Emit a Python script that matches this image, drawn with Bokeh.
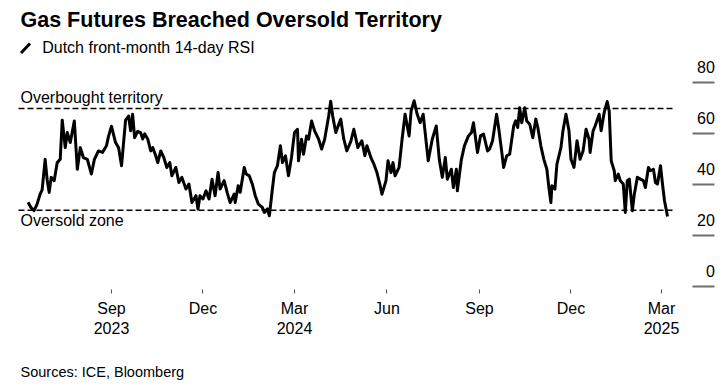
from datetime import datetime
import pandas as pd
from bokeh.plotting import figure
from bokeh.models import Range1d, FixedTicker, Label, Arrow, ColumnDataSource
from bokeh.core.properties import value
from bokeh.embed import file_html
from bokeh.resources import INLINE

# ---------------- data ----------------
dates = [
    "2023-06-10", "2023-06-13", "2023-06-16", "2023-06-19", "2023-06-22", "2023-06-24", "2023-06-27", "2023-06-29",
    "2023-07-01", "2023-07-03", "2023-07-06", "2023-07-09", "2023-07-12", "2023-07-14", "2023-07-17", "2023-07-19",
    "2023-07-22", "2023-07-26", "2023-07-29", "2023-08-01", "2023-08-04", "2023-08-08", "2023-08-12", "2023-08-15",
    "2023-08-19", "2023-08-23", "2023-08-27", "2023-08-29", "2023-09-01", "2023-09-05", "2023-09-08", "2023-09-11",
    "2023-09-15", "2023-09-18", "2023-09-20", "2023-09-22", "2023-09-24", "2023-09-27", "2023-09-30", "2023-10-02",
    "2023-10-04", "2023-10-07", "2023-10-10", "2023-10-12", "2023-10-15", "2023-10-17", "2023-10-20", "2023-10-23",
    "2023-10-26", "2023-10-29", "2023-10-31", "2023-11-04", "2023-11-07", "2023-11-10", "2023-11-14", "2023-11-17",
    "2023-11-20", "2023-11-24", "2023-11-26", "2023-11-28", "2023-12-01", "2023-12-04", "2023-12-07", "2023-12-10",
    "2023-12-13", "2023-12-16", "2023-12-18", "2023-12-22", "2023-12-25", "2023-12-28", "2024-01-01", "2024-01-02",
    "2024-01-05", "2024-01-07", "2024-01-11", "2024-01-13", "2024-01-16", "2024-01-19", "2024-01-22", "2024-01-25",
    "2024-01-29", "2024-01-31", "2024-02-03", "2024-02-05", "2024-02-08", "2024-02-10", "2024-02-13", "2024-02-16",
    "2024-02-18", "2024-02-21", "2024-02-24", "2024-02-27", "2024-03-01", "2024-03-04", "2024-03-05", "2024-03-08",
    "2024-03-10", "2024-03-13", "2024-03-15", "2024-03-18", "2024-03-21", "2024-03-25", "2024-03-28", "2024-03-31",
    "2024-04-04", "2024-04-06", "2024-04-08", "2024-04-11", "2024-04-16", "2024-04-19", "2024-04-22", "2024-04-26",
    "2024-04-29", "2024-05-03", "2024-05-07", "2024-05-10", "2024-05-12", "2024-05-16", "2024-05-19", "2024-05-22",
    "2024-05-25", "2024-05-27", "2024-05-31", "2024-06-02", "2024-06-05", "2024-06-07", "2024-06-09", "2024-06-13",
    "2024-06-16", "2024-06-19", "2024-06-23", "2024-06-25", "2024-06-28", "2024-07-01", "2024-07-04", "2024-07-07",
    "2024-07-12", "2024-07-16", "2024-07-20", "2024-07-23", "2024-07-26", "2024-07-29", "2024-07-31", "2024-08-04",
    "2024-08-06", "2024-08-09", "2024-08-10", "2024-08-14", "2024-08-17", "2024-08-21", "2024-08-24", "2024-08-26",
    "2024-08-30", "2024-09-02", "2024-09-05", "2024-09-09", "2024-09-11", "2024-09-14", "2024-09-18", "2024-09-20",
    "2024-09-23", "2024-09-25", "2024-09-28", "2024-10-01", "2024-10-05", "2024-10-07", "2024-10-09", "2024-10-11",
    "2024-10-13", "2024-10-16", "2024-10-18", "2024-10-21", "2024-10-24", "2024-10-27", "2024-10-29", "2024-11-01",
    "2024-11-04", "2024-11-07", "2024-11-09", "2024-11-11", "2024-11-12", "2024-11-15", "2024-11-17", "2024-11-21",
    "2024-11-23", "2024-11-26", "2024-11-29", "2024-12-01", "2024-12-04", "2024-12-07", "2024-12-10", "2024-12-13",
    "2024-12-16", "2024-12-19", "2024-12-20", "2024-12-23", "2024-12-25", "2024-12-29", "2024-12-31", "2025-01-03",
    "2025-01-06", "2025-01-08", "2025-01-10", "2025-01-13", "2025-01-14", "2025-01-17", "2025-01-19", "2025-01-22",
    "2025-01-24", "2025-01-26", "2025-01-28", "2025-01-31", "2025-02-02", "2025-02-05", "2025-02-08", "2025-02-11",
    "2025-02-13", "2025-02-16", "2025-02-18", "2025-02-21", "2025-02-23", "2025-02-25", "2025-02-28", "2025-03-02",
    "2025-03-04", "2025-03-07",
]
rsi = [
    33.1, 31.0, 29.8, 32.4, 36.3, 38.0, 50.0, 42.0,
    37.0, 42.9, 41.6, 48.7, 50.0, 65.4, 54.6, 60.5,
    56.6, 65.1, 46.1, 54.6, 50.7, 50.0, 44.2, 50.0,
    53.3, 52.7, 55.3, 59.0, 63.0, 56.6, 54.6, 47.5,
    65.4, 67.0, 61.2, 67.7, 58.5, 61.0, 60.5, 58.0,
    60.0, 58.0, 53.3, 54.6, 51.4, 48.7, 53.3, 50.7,
    46.8, 48.7, 43.5, 46.8, 40.9, 42.9, 38.3, 40.3,
    33.0, 35.7, 30.5, 35.7, 34.4, 37.6, 34.4, 42.2,
    35.7, 44.8, 38.3, 41.6, 37.0, 33.0, 36.3, 33.0,
    39.6, 37.0, 46.8, 44.2, 43.5, 40.3, 35.7, 32.4,
    31.1, 29.1, 30.5, 27.8, 38.3, 44.8, 47.5, 55.3,
    48.7, 51.4, 43.5, 50.7, 60.5, 61.8, 49.4, 57.9,
    52.0, 59.2, 57.9, 65.1, 61.2, 57.9, 54.0, 57.9,
    67.0, 72.8, 67.0, 60.5, 65.8, 58.0, 53.3, 57.0,
    61.8, 54.6, 57.3, 51.4, 55.3, 50.7, 48.1, 44.8,
    40.0, 36.3, 41.6, 49.4, 44.8, 48.7, 43.5, 46.8,
    57.9, 67.7, 59.2, 69.0, 73.0, 67.7, 64.4, 67.7,
    49.4, 57.9, 63.1, 50.0, 42.9, 50.7, 42.2, 46.1,
    38.9, 46.1, 37.6, 50.0, 55.3, 59.2, 60.5, 64.4,
    52.7, 59.2, 59.9, 53.3, 54.0, 57.3, 67.7, 62.5,
    53.3, 46.8, 51.4, 52.0, 63.1, 65.1, 62.5, 70.3,
    64.4, 70.3, 65.1, 63.8, 58.5, 65.8, 62.5, 55.3,
    50.0, 46.1, 38.9, 33.0, 39.6, 38.3, 48.1, 54.6,
    61.2, 67.7, 61.2, 50.0, 46.8, 57.3, 50.0, 53.3,
    61.8, 57.9, 52.7, 61.2, 63.1, 67.7, 61.2, 68.4,
    72.7, 69.0, 49.4, 45.5, 41.6, 44.2, 41.6, 40.3,
    29.1, 41.6, 42.2, 29.8, 36.3, 42.9, 42.2, 41.6,
    38.9, 46.8, 45.5, 46.1, 40.9, 40.3, 47.5, 40.3,
    33.7, 27.5,
]

tick_dates = ["2023-09-01", "2023-12-01", "2024-03-01", "2024-06-01", "2024-09-01", "2024-12-01", "2025-03-01"]
tick_labels = ["Sep\n2023", "Dec", "Mar\n2024", "Jun", "Sep", "Dec", "Mar\n2025"]
y_ticks = [0, 20, 40, 60, 80]
y_tick_labels = ["0", "20", "40", "60", "80"]
overbought = 70
oversold = 30

FONT = "Liberation Sans"

# view window / layout constants
x_start = datetime(2023, 5, 13, 14, 24)
x_end = datetime(2025, 4, 25, 17)
band_start = datetime(2023, 5, 31, 12)
band_end = datetime(2025, 3, 13)
rule_x0 = pd.Timestamp("2025-03-31 19:00")
rule_x1 = pd.Timestamp("2025-04-23 00:00")
axis_y = -1.2

src = ColumnDataSource(dict(date=pd.to_datetime(dates), rsi=rsi))

p = figure(width=717, height=380, x_axis_type="datetime",
           x_range=Range1d(x_start, x_end), y_range=Range1d(-36.95, 112.43),
           output_backend="svg", toolbar_location=None,
           min_border_left=0, min_border_right=0, min_border_top=0, min_border_bottom=0)
p.title.visible = False
p.grid.visible = False
p.outline_line_color = None
p.background_fill_color = "white"
p.border_fill_color = "white"

# reference lines
for lvl in (overbought, oversold):
    p.line(x=[band_start, band_end], y=[lvl, lvl], line_color="#000000",
           line_width=1.5, line_dash="6 3")

# RSI line
p.line(x="date", y="rsi", source=src, line_color="#000000", line_width=3,
       line_join="round")

# y-axis: short gray rules drawn by a real axis pinned at the right,
# with each value written just above its rule
yax = p.yaxis[0]
yax.fixed_location = int(rule_x0.value // 10**6)
yax.ticker = FixedTicker(ticks=y_ticks)
yax.major_label_overrides = {t: "" for t in y_ticks}
yax.axis_line_color = None
yax.major_tick_in = 22
yax.major_tick_out = 0
yax.major_tick_line_color = "#6e6e6e"
yax.major_tick_line_width = 1.8
yax.minor_tick_line_color = None

ysrc = ColumnDataSource(dict(x=pd.to_datetime([rule_x1] * len(y_ticks)),
                             y=y_ticks, label=y_tick_labels))
p.text(x="x", y="y", text="label", source=ysrc,
       text_align="right", text_baseline="alphabetic", y_offset=-16,
       text_font=value(FONT), text_font_size="16px", text_color="#000000")

# x-axis, pinned just under the plotting band
tick_ms = [int(pd.Timestamp(d).value // 10**6) for d in tick_dates]
ax = p.xaxis[0]
ax.fixed_location = axis_y
ax.ticker = FixedTicker(ticks=tick_ms)
ax.major_label_overrides = dict(zip(tick_ms, tick_labels))
ax.axis_line_color = None
ax.major_tick_in = 0
ax.major_tick_out = 4
ax.major_tick_line_color = "#555555"
ax.major_tick_line_width = 1
ax.minor_tick_line_color = None
ax.major_label_text_font = FONT
ax.major_label_text_font_size = "16px"
ax.major_label_text_color = "#000000"
ax.major_label_standoff = 6

# texts: screen units from the frame's bottom-left corner
def lab(text, x, y, size="16px", style="normal"):
    p.add_layout(Label(x=x, y=y, x_units="screen", y_units="screen", text=text,
                       text_font=FONT, text_font_size=size, text_font_style=style,
                       text_color="#000000", text_baseline="alphabetic"))

lab("Gas Futures Breached Oversold Territory", 20, 361, size="21.5px", style="bold")
lab("Dutch front-month 14-day RSI", 41.7, 332.7)
lab("Overbought territory", 20, 282.7)
lab("Oversold zone", 20, 160.3)
lab("Sources: ICE, Bloomberg", 20, 9.0, size="14.5px")

p.add_layout(Arrow(end=None, x_start=20.5, y_start=327.5, x_end=29.5, y_end=337,
                   start_units="screen", end_units="screen",
                   line_color="#000000", line_width=3))

open("out.html", "w").write(file_html(p, INLINE))
